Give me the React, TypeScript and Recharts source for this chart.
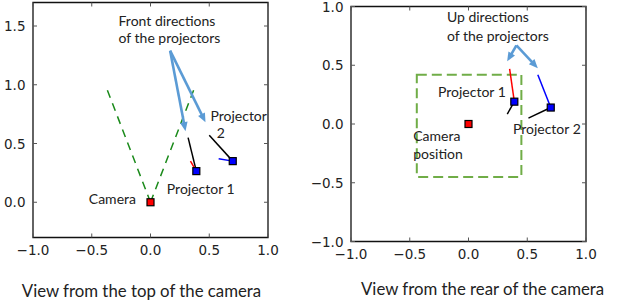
import React from 'react';
import { ScatterChart, Scatter, XAxis, YAxis, ReferenceLine, ReferenceArea, ReferenceDot } from 'recharts';

// ---------- data ----------
const xTicks = [-1, -0.5, 0, 0.5, 1];
const topYTicks = [0, 0.5, 1, 1.5];
const rearYTicks = [-1, -0.5, 0, 0.5, 1];
const xDomain: [number, number] = [-1, 1];
const topYDomain: [number, number] = [-0.3, 1.7];
const rearYDomain: [number, number] = [-1, 1];

// top view (x vs depth)
const topCamera = [{ x: 0, y: 0 }];
const topProjectors = [{ x: 0.39, y: 0.265 }, { x: 0.7, y: 0.35 }];
const topFov = [
  [{ x: 0, y: 0 }, { x: -0.385, y: 1.0 }],
  [{ x: 0, y: 0 }, { x: 0.385, y: 1.0 }],
];
const topFront = [
  [{ x: 0.39, y: 0.265 }, { x: 0.32, y: 0.55 }],
  [{ x: 0.7, y: 0.35 }, { x: 0.5, y: 0.57 }],
];
const topUpP1 = [{ x: 0.39, y: 0.265 }, { x: 0.34, y: 0.35 }];
const topUpP2 = [{ x: 0.7, y: 0.35 }, { x: 0.58, y: 0.37 }];
const topArrows = [
  [{ x: 0.167, y: 1.29 }, { x: 0.298, y: 0.605 }],
  [{ x: 0.167, y: 1.29 }, { x: 0.468, y: 0.68 }],
];
const topLabels = [
  { x: -0.272, y: 1.5, text: 'Front directions' },
  { x: -0.272, y: 1.353, text: 'of the projectors' },
  { x: 0.51, y: 0.693, text: 'Projector' },
  { x: 0.564, y: 0.548, text: '2' },
  { x: 0.139, y: 0.068, text: 'Projector 1' },
  { x: -0.525, y: -0.011, text: 'Camera' },
];

// rear view (x vs height)
const rearCamera = [{ x: 0, y: 0 }];
const rearProjectors = [{ x: 0.39, y: 0.19 }, { x: 0.7, y: 0.14 }];
const rearUpP1 = [{ x: 0.39, y: 0.19 }, { x: 0.35, y: 0.47 }];
const rearUpP2 = [{ x: 0.7, y: 0.14 }, { x: 0.59, y: 0.42 }];
const rearFront = [
  [{ x: 0.39, y: 0.19 }, { x: 0.33, y: 0.085 }],
  [{ x: 0.7, y: 0.14 }, { x: 0.51, y: 0.05 }],
];
const rearBox = { x1: -0.44, x2: 0.45, y1: -0.45, y2: 0.42 };
const rearArrows = [
  [{ x: 0.408, y: 0.669 }, { x: 0.329, y: 0.534 }],
  [{ x: 0.408, y: 0.669 }, { x: 0.59, y: 0.475 }],
];
const rearLabels = [
  { x: -0.184, y: 0.87, text: 'Up directions' },
  { x: -0.184, y: 0.708, text: 'of the projectors' },
  { x: -0.26, y: 0.234, text: 'Projector 1' },
  { x: 0.378, y: -0.082, text: 'Projector 2' },
  { x: -0.47, y: -0.147, text: 'Camera' },
  { x: -0.47, y: -0.297, text: 'position' },
];

const captions = ['View from the top of the camera', 'View from the rear of the camera'];

// ---------- styles ----------
const PLOT = 235;
const TICK_FONT = '"DejaVu Sans", sans-serif';
const TEXT_FONT = 'Lato, "Open Sans", sans-serif';
const ARROW = '#5b9bd5';

const fmt = (v: number) => v.toFixed(1).replace('-', '\u2212');

const BottomTick = (p: any) => {
  const { x, y, payload } = p;
  return (
    <g>
      <line x1={x} y1={y} x2={x} y2={y - 4} stroke="#555" strokeWidth={1} />
      <line x1={x} y1={y - PLOT} x2={x} y2={y - PLOT + 4} stroke="#555" strokeWidth={1} />
      <text x={x} y={y + 17.5} textAnchor="middle" fontFamily={TICK_FONT} fontSize={13.5} fill="#222">
        {fmt(payload.value)}
      </text>
    </g>
  );
};

const LeftTick = (p: any) => {
  const { x, y, payload } = p;
  return (
    <g>
      <line x1={x} y1={y} x2={x + 4} y2={y} stroke="#555" strokeWidth={1} />
      <line x1={x + PLOT} y1={y} x2={x + PLOT - 4} y2={y} stroke="#555" strokeWidth={1} />
      <text x={x - 7.5} y={y + 5} textAnchor="end" fontFamily={TICK_FONT} fontSize={13.5} fill="#222">
        {fmt(payload.value)}
      </text>
    </g>
  );
};

const Arrow = (p: any) => {
  const { x1, y1, x2, y2 } = p;
  const dx = x2 - x1;
  const dy = y2 - y1;
  const L = Math.hypot(dx, dy) || 1;
  const ux = dx / L;
  const uy = dy / L;
  const hl = 9;
  const hw = 3.8;
  const bx = x2 - ux * hl;
  const by = y2 - uy * hl;
  return (
    <g>
      <line x1={x1} y1={y1} x2={bx + ux} y2={by + uy} stroke={ARROW} strokeWidth={2.6} />
      <polygon
        points={`${x2},${y2} ${bx - uy * hw},${by + ux * hw} ${bx + uy * hw},${by - ux * hw}`}
        fill={ARROW}
      />
    </g>
  );
};

const Square = (p: any) => {
  const { cx, cy, fill } = p;
  return <rect x={cx - 3.5} y={cy - 3.5} width={7} height={7} fill={fill} stroke="#000" strokeWidth={1.2} />;
};

const labelShape = (text: string) => (p: any) => (
  <text x={p.cx} y={p.cy} fontFamily={TEXT_FONT} fontSize={14} fill="#222">
    {text}
  </text>
);

const seg = (pts: { x: number; y: number }[]) => pts.map((d) => ({ x: d.x, y: d.y })) as any;

const TopView = () => (
  <ScatterChart width={311} height={305} margin={{ top: 2.5, right: 43, bottom: 47.5, left: 0 }}>
    <XAxis type="number" dataKey="x" domain={xDomain} ticks={xTicks} interval={0} allowDataOverflow
      axisLine={false} tickLine={false} tickSize={0} tickMargin={0} height={20} tick={<BottomTick />} />
    <YAxis type="number" dataKey="y" domain={topYDomain} ticks={topYTicks} interval={0} allowDataOverflow
      axisLine={false} tickLine={false} tickSize={0} tickMargin={0} width={33} tick={<LeftTick />} />
    <ReferenceArea x1={xDomain[0]} x2={xDomain[1]} y1={topYDomain[0]} y2={topYDomain[1]}
      fill="none" fillOpacity={0} stroke="#111" strokeWidth={1.3} ifOverflow="visible" />
    {topFov.map((s, i) => (
      <ReferenceLine key={'fov' + i} segment={seg(s)} stroke="#1a8a1a" strokeWidth={1.5} strokeDasharray="8 6" ifOverflow="visible" />
    ))}
    {topFront.map((s, i) => (
      <ReferenceLine key={'f' + i} segment={seg(s)} stroke="#000" strokeWidth={1.5} ifOverflow="visible" />
    ))}
    <ReferenceLine segment={seg(topUpP1)} stroke="#ff0000" strokeWidth={1.5} ifOverflow="visible" />
    <ReferenceLine segment={seg(topUpP2)} stroke="#0000ff" strokeWidth={1.5} ifOverflow="visible" />
    <Scatter data={topCamera} fill="#ff0000" shape={<Square />} isAnimationActive={false} />
    <Scatter data={topProjectors} fill="#0000ff" shape={<Square />} isAnimationActive={false} />
    {topArrows.map((s, i) => (
      <ReferenceLine key={'a' + i} segment={seg(s)} shape={Arrow} ifOverflow="visible" />
    ))}
    {topLabels.map((l, i) => (
      <ReferenceDot key={'l' + i} x={l.x} y={l.y} r={0} shape={labelShape(l.text)} ifOverflow="visible" />
    ))}
  </ScatterChart>
);

const RearView = () => (
  <ScatterChart width={312} height={305} margin={{ top: 6.5, right: 37, bottom: 43.5, left: 0 }}>
    <XAxis type="number" dataKey="x" domain={xDomain} ticks={xTicks} interval={0} allowDataOverflow
      axisLine={false} tickLine={false} tickSize={0} tickMargin={0} height={20} tick={<BottomTick />} />
    <YAxis type="number" dataKey="y" domain={rearYDomain} ticks={rearYTicks} interval={0} allowDataOverflow
      axisLine={false} tickLine={false} tickSize={0} tickMargin={0} width={40} tick={<LeftTick />} />
    <ReferenceArea x1={xDomain[0]} x2={xDomain[1]} y1={rearYDomain[0]} y2={rearYDomain[1]}
      fill="none" fillOpacity={0} stroke="#111" strokeWidth={1.3} ifOverflow="visible" />
    <ReferenceArea x1={rearBox.x1} x2={rearBox.x2} y1={rearBox.y1} y2={rearBox.y2}
      fill="none" fillOpacity={0} stroke="#70ad47" strokeWidth={2} strokeDasharray="10 5" ifOverflow="visible" />
    {rearFront.map((s, i) => (
      <ReferenceLine key={'f' + i} segment={seg(s)} stroke="#000" strokeWidth={1.5} ifOverflow="visible" />
    ))}
    <ReferenceLine segment={seg(rearUpP1)} stroke="#ff0000" strokeWidth={1.5} ifOverflow="visible" />
    <ReferenceLine segment={seg(rearUpP2)} stroke="#0000ff" strokeWidth={1.5} ifOverflow="visible" />
    <Scatter data={rearCamera} fill="#ff0000" shape={<Square />} isAnimationActive={false} />
    <Scatter data={rearProjectors} fill="#0000ff" shape={<Square />} isAnimationActive={false} />
    {rearArrows.map((s, i) => (
      <ReferenceLine key={'a' + i} segment={seg(s)} shape={Arrow} ifOverflow="visible" />
    ))}
    {rearLabels.map((l, i) => (
      <ReferenceDot key={'l' + i} x={l.x} y={l.y} r={0} shape={labelShape(l.text)} ifOverflow="visible" />
    ))}
  </ScatterChart>
);

export default function App() {
  return (
    <div style={{ position: 'absolute', left: 0, top: 0, width: 623, height: 305, background: '#fff', overflow: 'hidden' }}>
      <div style={{ position: 'absolute', left: 0, top: 0 }}>
        <TopView />
      </div>
      <div style={{ position: 'absolute', left: 311, top: 0 }}>
        <RearView />
      </div>
      <svg width={623} height={305} style={{ position: 'absolute', left: 0, top: 0, pointerEvents: 'none' }}>
        <text x={141.5} y={296.5} textAnchor="middle" fontFamily={TEXT_FONT} fontSize={16.8} fill="#222">{captions[0]}</text>
        <text x={482.6} y={295} textAnchor="middle" fontFamily={TEXT_FONT} fontSize={16.8} fill="#222">{captions[1]}</text>
      </svg>
    </div>
  );
}
